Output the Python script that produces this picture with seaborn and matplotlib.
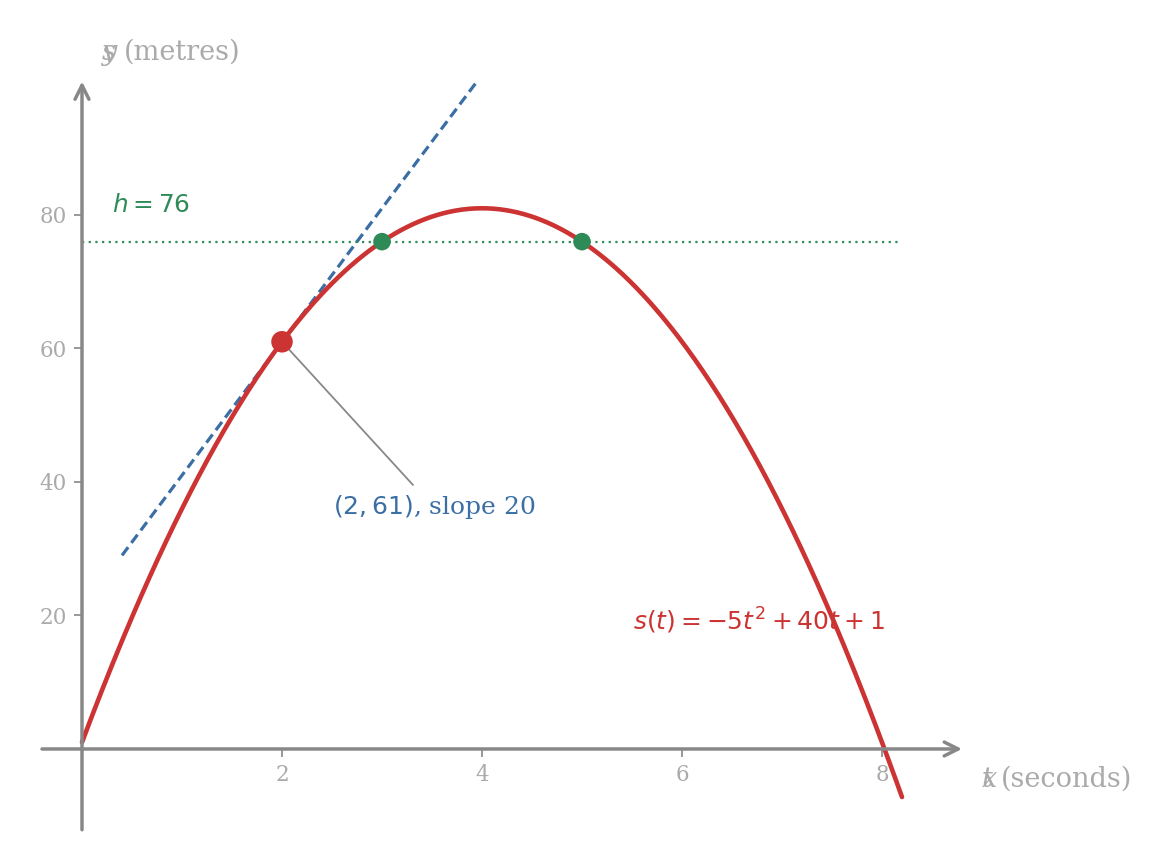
import numpy as np
import pandas as pd
import matplotlib
matplotlib.use("Agg")
import matplotlib.pyplot as plt
import seaborn as sns

# Data: quadratic s(t) = -5t^2 + 40t + 1 as shown in the label
coeffs = [-5, 40, 1]
t_range = [0.0, 8.2]
point_t = 2
point_s = 61
slope = 20
tangent_t = [0.4, 3.95]
height = 76
height_t = [3, 5]
x_ticks = [2, 4, 6, 8]
y_ticks = [20, 40, 60, 80]

RED = "#cc3333"
BLUE = "#3a6ea5"
GREEN = "#2e8b57"
GREY = "#888888"
LIGHT = "#aaaaaa"

sns.set_style("white")
plt.rcParams["font.family"] = ["DejaVu Serif"]
plt.rcParams["mathtext.fontset"] = "dejavusans"

fig = plt.figure(figsize=(11.69, 8.65), dpi=100)
ax = fig.add_axes([0, 0, 1, 1])

t = np.linspace(t_range[0], t_range[1], 400)
curve = pd.DataFrame({"t": t, "s": np.polyval(coeffs, t)})
sns.lineplot(data=curve, x="t", y="s", color=RED, lw=3.3, ax=ax, zorder=3)

tt = np.array(tangent_t)
ax.plot(tt, point_s + slope * (tt - point_t), color=BLUE, lw=2.3, ls=(0, (3.2, 1.7)), zorder=2)

ax.plot([0, 8.18], [height, height], color=GREEN, lw=1.6, ls=(0, (1, 2)), zorder=2)

pts = pd.DataFrame({"t": height_t, "s": [height] * len(height_t)})
sns.scatterplot(data=pts, x="t", y="s", color=GREEN, s=160, edgecolor="none", ax=ax, zorder=4)
ax.scatter([point_t], [point_s], color=RED, s=240, edgecolor="none", zorder=5)

# axes with arrows
ax.annotate("", xy=(8.8, 0), xytext=(-0.4, 0),
            arrowprops=dict(arrowstyle="->", color=GREY, lw=2.5, mutation_scale=25, shrinkA=0, shrinkB=0))
ax.annotate("", xy=(0, 100), xytext=(0, -12.1),
            arrowprops=dict(arrowstyle="->", color=GREY, lw=2.5, mutation_scale=25, shrinkA=0, shrinkB=0))

for side in ["top", "right"]:
    ax.spines[side].set_visible(False)
ax.spines["left"].set_position(("data", 0))
ax.spines["bottom"].set_position(("data", 0))
ax.spines["left"].set_color("none")
ax.spines["bottom"].set_color("none")

ax.set_xticks(x_ticks)
ax.set_yticks(y_ticks)
ax.tick_params(axis="both", bottom=True, left=True, colors=GREY, labelcolor=LIGHT,
               labelsize=15.5, length=6, width=1.2, direction="out", pad=5)

ax.set_xlim(-0.82, 10.87)
ax.set_ylim(-17.38, 112.2)
ax.set_xlabel("")
ax.set_ylabel("")

# axis labels (two letters drawn over each other, as in the original)
ax.text(0.2, 104.4, "y", color=LIGHT, fontsize=19.5, va="center", ha="left", style="italic")
ax.text(0.2, 104.4, "s", color=LIGHT, fontsize=19.5, va="center", ha="left", style="italic")
ax.text(0.42, 104.4, "(metres)", color=LIGHT, fontsize=19.5, va="center", ha="left")
ax.text(9.0, -4.5, "x", color=LIGHT, fontsize=19.5, va="center", ha="left", style="italic")
ax.text(9.0, -4.5, "t", color=LIGHT, fontsize=19.5, va="center", ha="left", style="italic")
ax.text(9.19, -4.5, "(seconds)", color=LIGHT, fontsize=19.5, va="center", ha="left")

ax.text(0.3, 81.4, r"$h = 76$", color=GREEN, fontsize=17.8, va="center", ha="left")
ax.text(5.51, 19.2, r"$s(t) = -5t^2 + 40t + 1$", color=RED, fontsize=18, va="center", ha="left")

ax.annotate("", xy=(point_t, point_s), xytext=(3.31, 39.55),
            arrowprops=dict(arrowstyle="-", color=GREY, lw=1.3, shrinkA=0, shrinkB=0))
ax.text(3.52, 36.3, r"$(2, 61)$, slope 20", color=BLUE, fontsize=18, ha="center", va="center")

fig.savefig("out.png", dpi=100)
